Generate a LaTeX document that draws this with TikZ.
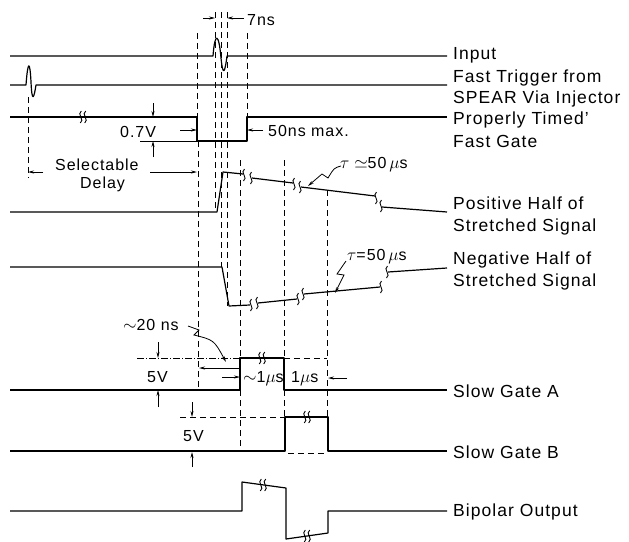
\documentclass[tikz,border=0pt]{standalone}
\usepackage{fontspec}
\setmainfont[LetterSpace=6]{Liberation Sans}
\usetikzlibrary{arrows.meta}
\begin{document}
\begin{tikzpicture}[x=1pt,y=-1pt,
  sig/.style={line width=1.2pt, line join=round},
  dsh/.style={line width=0.8pt, dash pattern=on 6pt off 4pt},
  ddot/.style={line width=0.8pt, dash pattern=on 7pt off 2pt on 1pt off 2pt},
  thinl/.style={line width=0.8pt},
  dim/.style={line width=0.8pt, -{Stealth[length=6pt,width=3pt]}},
  lbl/.style={font=\fontsize{17.5}{21}\selectfont, anchor=base west, inner sep=0pt},
  small/.style={font=\fontsize{16}{19}\selectfont, anchor=base west, inner sep=0pt},
  sq/.pic={\draw[line width=0.9pt] (-0.5,6) .. controls (4.5,3) and (-4.5,-3) .. (0.5,-6);},
  brkmark/.pic={\pic at (-2.2,0) {sq}; \pic at (2.2,0) {sq};}
]
\useasboundingbox (0,0) rectangle (629,541);

% ---------- signals ----------
% Input
\draw[sig] (10,56) -- (213,56) .. controls (215,30) and (219,34) .. (221,58)
  .. controls (223,78) and (225,72) .. (227,56) -- (447,56);
% Fast trigger
\draw[sig] (10,85) -- (26,85) .. controls (28,58) and (30,62) .. (31,82)
  .. controls (32,104) and (34,98) .. (36,85) -- (447,85);
% Properly timed fast gate
\draw[sig] (10,117) -- (197,117) -- (197,141) -- (247,141) -- (247,117) -- (447,117);
\pic at (83,117) {brkmark};
% Positive half
\draw[sig] (10,212) -- (217,212) -- (223,172) -- (243,174);
\pic at (244,175) {sq};
\draw[sig] (252,178) -- (293,183);
\pic at (251,178) {sq};
\pic at (294,184) {sq};
\draw[sig] (301,187) -- (375,196);
\pic at (300,187) {sq};
\pic at (376,198) {sq};
\draw[sig] (382,207) -- (447,212);
\pic at (381,206) {sq};
% Negative half
\draw[sig] (10,267) -- (222,267) -- (229,306) -- (250,305);
\pic at (251,305) {sq};
\draw[sig] (258,303) -- (297,299);
\pic at (257,303) {sq};
\pic at (298,299) {sq};
\draw[sig] (304,294) -- (380,287);
\pic at (303,294) {sq};
\pic at (381,287) {sq};
\draw[sig] (388,272) -- (447,268);
\pic at (387,272) {sq};
% Slow gate A
\draw[sig] (10,390) -- (240,390) -- (240,358) -- (284,358) -- (284,390) -- (447,390);
\pic at (262,358) {brkmark};
% Slow gate B
\draw[sig] (10,451) -- (285,451) -- (285,417) -- (328,417) -- (328,451) -- (447,451);
\draw[dsh] (288,453) -- (326,453);
\pic at (307,417) {brkmark};
% Bipolar output
\draw[sig] (10,511) -- (242,511) -- (242,482) -- (286,488) -- (286,539) -- (328,533) -- (328,511) -- (447,511);
\pic at (263,485) {brkmark};
\pic at (307,536) {brkmark};

% ---------- dashed verticals ----------
\draw[dsh] (28,97) -- (28,178);
\draw[dsh] (197,33) -- (197,117);
\draw[dsh] (198,141) -- (198,390);
\draw[dsh] (247,33) -- (247,117);
\draw[dsh] (215,12) -- (215,211);
\draw[dsh] (221,12) -- (221,267);
\draw[dsh] (227,12) -- (227,306);
\draw[dsh] (240,160) -- (240,451);
\draw[dsh] (284,160) -- (284,417);
\draw[dsh] (327,190) -- (327,417);
% extension lines
\draw[ddot] (137,358) -- (240,358);
\draw[dsh] (284,358) -- (327,358);
\draw[dsh] (180,417) -- (285,417);
\draw[thinl] (140,141) -- (197,141);

% ---------- dimension arrows ----------
\draw[dim] (203,18) -- (215,18);
\draw[dim] (244,18) -- (227,18);
\draw[dim] (153,103) -- (153,117);
\draw[dim] (153,157) -- (153,141);
\draw[dim] (180,130) -- (197,130);
\draw[dim] (263,130) -- (247,130);
\draw[dim] (43,172) -- (28,172);
\draw[dim] (150,172) -- (197,172);
\draw[dim] (158,342) -- (158,358);
\draw[dim] (158,407) -- (158,390);
\draw[dim] (239,368) -- (199,368);
\draw[dim] (222,377) -- (240,377);
\draw[dim] (347,378) -- (328,378);
\draw[dim] (192,402) -- (192,417);
\draw[dim] (192,467) -- (192,452);

% leaders
\draw[dim] (341,166) .. controls (334,168) .. (328,178) -- (322,174) -- (308,186);
\draw[dim] (346,261) -- (337,274) -- (344,275) -- (335,293);
\draw[dim] (188,326) -- (199,330) -- (194,335) .. controls (214,340) .. (226,362);

% ---------- small labels ----------
\node[small] (l7ns) at (247,25) {7ns};
\node[small] (l07) at (120,137) {0.7V};
\node[small] (l50) at (268,136) {50ns max.};
\node[small] (lsel) at (55,170) {Selectable};
\node[small] (ldel) at (80,188) {Delay};
\node[small] (ltau1) at (340,168) {$\tau\simeq$50$\,\mu$s};
\node[small] (ltau2) at (347,260) {$\tau$=50$\,\mu$s};
\node[small] (l20) at (123,330) {$\sim$20 ns};
\node[small] (l5a) at (147,382) {5V};
\node[small] (l1a) at (243,382) {$\sim$1$\mu$s};
\node[small] (l1b) at (291,382) {1$\mu$s};
\node[small] (l5b) at (183,441) {5V};

% ---------- right labels ----------
\node[lbl] (tin) at (453,59) {Input};
\node[lbl] (tft1) at (453,82) {Fast Trigger from};
\node[lbl] (tft2) at (453,103) {SPEAR Via Injector};
\node[lbl] (tpg1) at (453,124) {Properly Timed'};
\node[lbl] (tpg2) at (453,147) {Fast Gate};
\node[lbl] (tph1) at (453,209) {Positive Half of};
\node[lbl] (tph2) at (453,231) {Stretched Signal};
\node[lbl] (tnh1) at (453,264) {Negative Half of};
\node[lbl] (tnh2) at (453,286) {Stretched Signal};
\node[lbl] (tsa) at (453,397) {Slow Gate A};
\node[lbl] (tsb) at (453,458) {Slow Gate B};
\node[lbl] (tbo) at (453,516) {Bipolar Output};
\end{tikzpicture}
\end{document}
